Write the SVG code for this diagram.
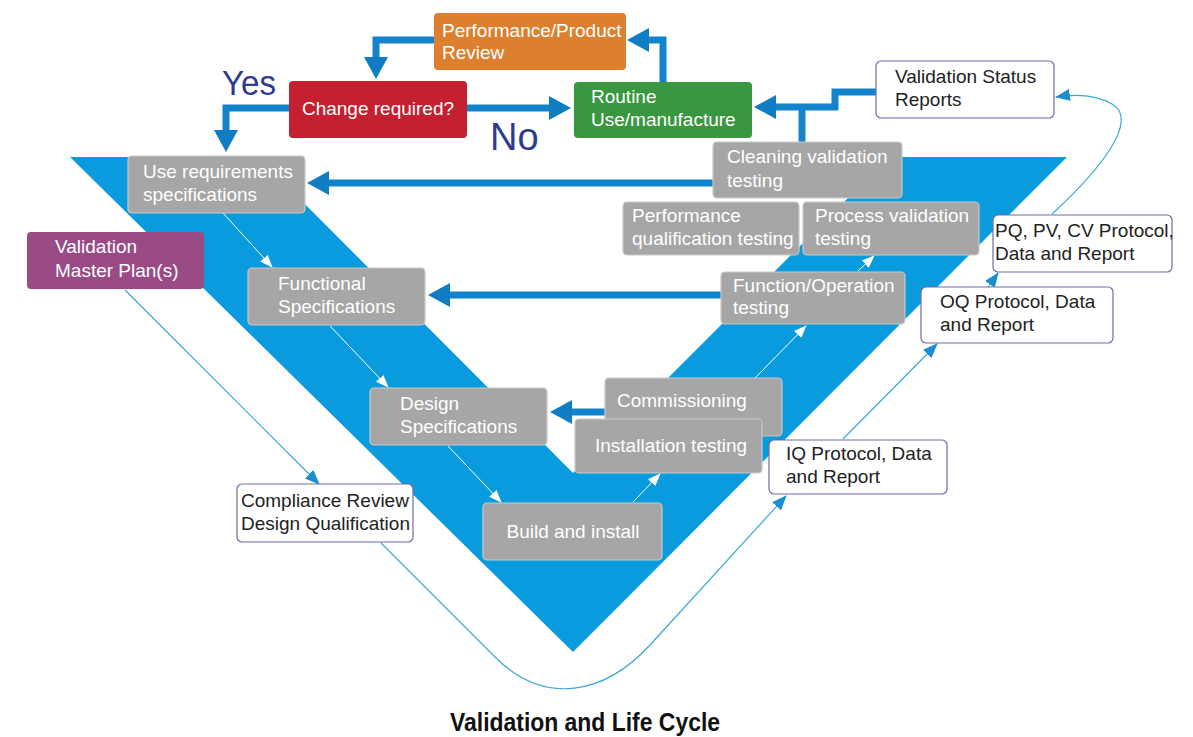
<svg xmlns="http://www.w3.org/2000/svg" width="1193" height="737" viewBox="0 0 1193 737">
<defs>
<style>
.t{font-family:"Liberation Sans",Arial,sans-serif;font-size:19px}
.w{fill:#ffffff}
.k{fill:#222222}
.g rect{fill:#a6a6a6;stroke:#c9c9c9;stroke-width:1.2}
.wb rect{fill:#ffffff;stroke:#6d6aa8;stroke-width:1.2}
.thick{fill:none;stroke:#1384cc;stroke-width:7;marker-end:url(#ah)}
.thin{fill:none;stroke:#ffffff;stroke-width:1;marker-end:url(#wh)}
.lb{fill:none;stroke:#3aa7d8;stroke-width:1.2;marker-end:url(#bh)}
</style>
<marker id="ah" markerUnits="userSpaceOnUse" markerWidth="24" markerHeight="26" viewBox="0 -13 24 26" refX="1" refY="0" orient="auto"><path d="M0,-12 L22,0 L0,12 z" fill="#0f7cc4"/></marker>
<marker id="wh" markerUnits="userSpaceOnUse" markerWidth="14" markerHeight="12" viewBox="0 -6 14 12" refX="12" refY="0" orient="auto"><path d="M0,-5 L13,0 L0,5 z" fill="#ffffff"/></marker>
<marker id="bh" markerUnits="userSpaceOnUse" markerWidth="16" markerHeight="14" viewBox="0 -7 16 14" refX="14" refY="0" orient="auto"><path d="M0,-6 L15,0 L0,6 z" fill="#1a8ed0"/></marker>
</defs>
<rect width="1193" height="737" fill="#ffffff"/>
<polygon id="vee" points="70,157 258,157 573,473 889,157 1067,157 573,652" fill="#099bdd"/>
<g id="connectors">
<path class="thin" d="M223,213 L272,267"/>
<path class="thin" d="M330,326 L388,387"/>
<path class="thin" d="M448,446 L501,502"/>
<path class="thin" d="M633,502 L660,474"/>
<path class="thin" d="M755,378 L806,326"/>
<path class="thin" d="M858,271 L874,256"/>
<path class="lb" d="M125,290 L319,484"/>
<path class="lb" d="M381,543 L495,657 C545,707 605,694 650,645 L786,496"/>
<path class="lb" d="M843,439 L937,344"/>
<path class="lb" d="M988,287 L998,273"/>
<path class="lb" d="M1052,214 C1100,170 1140,120 1112,104 C1095,94 1075,94 1056,97"/>
<path class="thick" d="M434,40 L376,40 L376,58"/>
<path class="thick" d="M663,82 L663,40 L648,40"/>
<path class="thick" d="M289,108 L226,108 L226,131"/>
<path class="thick" d="M467,108 L550,108"/>
<path class="thick" d="M876,92 L835,92 L835,107 L775,107"/>
<path d="M802,142 L802,107" fill="none" stroke="#1384cc" stroke-width="7"/>
<path class="thick" d="M713,183 L328,183"/>
<path class="thick" d="M721,295 L449,295"/>
<path class="thick" d="M605,412 L571,412"/>
</g>
<g id="perf-review"><rect x="434" y="13" width="192" height="57" rx="4" fill="#dc7f2e"/><text class="t w" x="442" y="37">Performance/Product</text><text class="t w" x="442" y="59">Review</text></g>
<g id="change"><rect x="289" y="81" width="178" height="57" rx="4" fill="#c5202f"/><text class="t w" x="378" y="115" text-anchor="middle">Change required?</text></g>
<g id="routine"><rect x="574" y="82" width="178" height="56" rx="4" fill="#38973f"/><text class="t w" x="591" y="103">Routine</text><text class="t w" x="591" y="126">Use/manufacture</text></g>
<g id="yes"><text x="222" y="95" font-family="Liberation Sans,Arial,sans-serif" font-size="35" fill="#2e3a8e" textLength="54" lengthAdjust="spacingAndGlyphs">Yes</text></g>
<g id="no"><text x="490" y="150" font-family="Liberation Sans,Arial,sans-serif" font-size="38" fill="#2e3a8e">No</text></g>
<g id="vsr" class="wb"><rect x="876" y="61" width="178" height="57" rx="5"/><text class="t k" x="895" y="83">Validation Status</text><text class="t k" x="895" y="106">Reports</text></g>
<g id="cleaning" class="g"><rect x="713" y="142" width="189" height="56" rx="4"/><text class="t w" x="727" y="163">Cleaning validation</text><text class="t w" x="727" y="187">testing</text></g>
<g id="use-req" class="g"><rect x="128" y="156" width="177" height="57" rx="4"/><text class="t w" x="143" y="178">Use requirements</text><text class="t w" x="143" y="201">specifications</text></g>
<g id="perf-qual" class="g"><rect x="623" y="202" width="176" height="53" rx="4"/><text class="t w" x="632" y="222">Performance</text><text class="t w" x="632" y="245">qualification testing</text></g>
<g id="process-val" class="g"><rect x="803" y="202" width="176" height="53" rx="4"/><text class="t w" x="815" y="222">Process validation</text><text class="t w" x="815" y="245">testing</text></g>
<g id="pq" class="wb"><rect x="993" y="215" width="179" height="57" rx="5"/><text class="t k" x="995" y="237">PQ, PV, CV Protocol,</text><text class="t k" x="995" y="260">Data and Report</text></g>
<g id="vmp"><rect x="27" y="232" width="177" height="57" rx="4" fill="#9a4b86"/><text class="t w" x="55" y="253">Validation</text><text class="t w" x="55" y="277">Master Plan(s)</text></g>
<g id="functional" class="g"><rect x="248" y="268" width="177" height="57" rx="4"/><text class="t w" x="278" y="290">Functional</text><text class="t w" x="278" y="313">Specifications</text></g>
<g id="function-op" class="g"><rect x="721" y="272" width="184" height="52" rx="4"/><text class="t w" x="733" y="292">Function/Operation</text><text class="t w" x="733" y="314">testing</text></g>
<g id="oq" class="wb"><rect x="921" y="287" width="192" height="56" rx="5"/><text class="t k" x="940" y="308">OQ Protocol, Data</text><text class="t k" x="940" y="331">and Report</text></g>
<g id="design" class="g"><rect x="370" y="388" width="177" height="57" rx="4"/><text class="t w" x="400" y="410">Design</text><text class="t w" x="400" y="433">Specifications</text></g>
<g id="commissioning" class="g"><rect x="605" y="378" width="177" height="58" rx="4"/><text class="t w" x="617" y="407">Commissioning</text></g>
<g id="installation" class="g"><rect x="575" y="419" width="187" height="54" rx="4"/><text class="t w" x="595" y="452">Installation testing</text></g>
<g id="iq" class="wb"><rect x="769" y="440" width="178" height="54" rx="5"/><text class="t k" x="786" y="460">IQ Protocol, Data</text><text class="t k" x="786" y="483">and Report</text></g>
<g id="compliance" class="wb"><rect x="237" y="484" width="176" height="58" rx="5"/><text class="t k" x="241" y="507">Compliance Review</text><text class="t k" x="241" y="530">Design Qualification</text></g>
<g id="build" class="g"><rect x="483" y="503" width="179" height="57" rx="4"/><text class="t w" x="573" y="538" text-anchor="middle">Build and install</text></g>
<g id="title"><text x="585" y="731" text-anchor="middle" font-family="Liberation Sans,Arial,sans-serif" font-weight="bold" font-size="25" fill="#111111" textLength="270" lengthAdjust="spacingAndGlyphs">Validation and Life Cycle</text></g>
</svg>
